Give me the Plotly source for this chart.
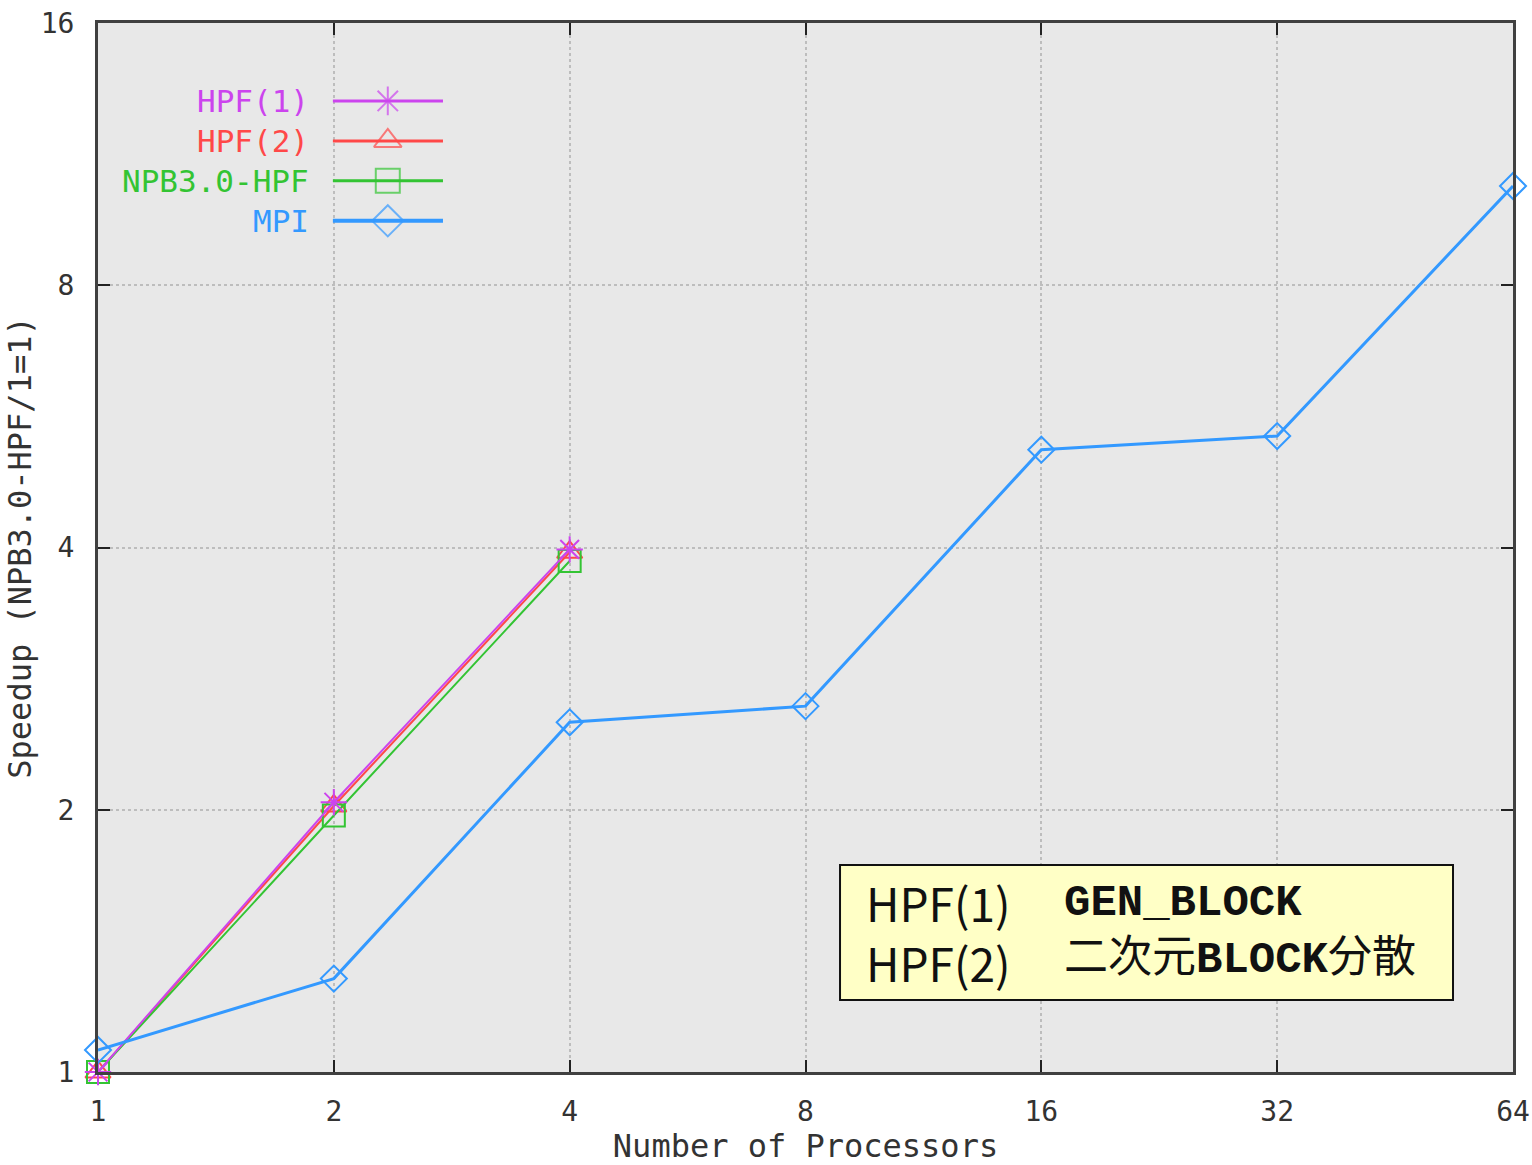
import plotly.graph_objects as go

# ---------------- data ----------------
processors = [1, 2, 4, 8, 16, 32, 64]
hpf1_x = [1, 2, 4]
hpf1_y = [1.0, 2.04, 3.98]
hpf2_x = [1, 2, 4]
hpf2_y = [1.0, 2.02, 3.95]
npb_x = [1, 2, 4]
npb_y = [1.0, 1.97, 3.86]
mpi_x = [1, 2, 4, 8, 16, 32, 64]
mpi_y = [1.06, 1.28, 2.52, 2.63, 5.18, 5.37, 10.4]

y_ticks = [1, 2, 4, 8, 16]
x_ticks = processors

series_names = ["HPF(1)", "HPF(2)", "NPB3.0-HPF", "MPI"]
series_colors = ["#cc44ee", "#ff4848", "#33c433", "#3399ff"]
series_symbols = ["asterisk-open", "triangle-up-open", "square-open", "diamond-open"]
series_widths = [2, 2, 2, 3]

mono = "DejaVu Sans Mono"

fig = go.Figure()

data = [(hpf2_x, hpf2_y, 1), (npb_x, npb_y, 2), (hpf1_x, hpf1_y, 0), (mpi_x, mpi_y, 3)]
for xs, ys, i in data:
    fig.add_trace(go.Scatter(
        x=xs, y=ys, mode="lines+markers", name=series_names[i],
        line=dict(color=series_colors[i], width=series_widths[i]),
        marker=dict(symbol=series_symbols[i], size=20 if i == 3 else 22,
                    color=series_colors[i], line=dict(width=2, color=series_colors[i])),
        showlegend=False, cliponaxis=False))

# ---------------- custom legend (text left of sample) ----------------
leg_top = 0.9257
leg_step = 0.0381
for k, name in enumerate(series_names):
    yk = leg_top - k * leg_step
    fig.add_annotation(x=0.1506, y=yk, xref="paper", yref="paper", text=name,
                       showarrow=False, xanchor="right", yanchor="middle",
                       font=dict(family=mono, size=31, color=series_colors[k]))
    fig.add_trace(go.Scatter(
        x=[0.166, 0.2048, 0.2438], y=[yk, yk, yk], xaxis="x2", yaxis="y2",
        mode="lines+markers", showlegend=False, hoverinfo="skip",
        line=dict(color=series_colors[k], width=series_widths[k] + 1),
        marker=dict(symbol=series_symbols[k], size=[0, 24, 0],
                    color=series_colors[k], line=dict(width=2, color=series_colors[k]))))

# ---------------- note box ----------------
fig.add_shape(type="rect", xref="paper", yref="paper",
              x0=0.5244, x1=0.9576, y0=0.0686, y1=0.1973,
              fillcolor="#ffffc6", line=dict(color="#111111", width=2), layer="above")
note_labels = "HPF(1)<br>HPF(2)"
note_descs = ("<b>GEN_BLOCK</b><br>"
              "二次元<span style=\"font-family:Liberation Mono\"><b>BLOCK</b></span>分散")
fig.add_annotation(x=0.5414, y=0.1335, xref="paper", yref="paper", text=note_labels,
                   showarrow=False, xanchor="left", yanchor="middle", align="left",
                   font=dict(family="Noto Sans CJK JP", size=46, color="#111111"))
fig.add_annotation(x=0.6813, y=0.1335, xref="paper", yref="paper", text=note_descs,
                   showarrow=False, xanchor="left", yanchor="middle", align="left",
                   font=dict(family="Liberation Mono, Noto Sans CJK JP", size=44,
                             color="#111111"))

grid = dict(showgrid=True, gridcolor="#bdbdbd", griddash="dot", gridwidth=2)
fig.update_layout(
    width=1532, height=1165,
    margin=dict(l=98, r=19, t=23, b=93),
    paper_bgcolor="#ffffff", plot_bgcolor="#e8e8e8",
    font=dict(family=mono, size=28, color="#333333"),
    xaxis=dict(type="log", range=[0, 1.80618], tickvals=x_ticks,
               ticktext=[str(v) for v in x_ticks], automargin=False,
               showline=True, linecolor="#404040", linewidth=3, mirror="ticks",
               ticks="inside", ticklen=12, tickwidth=2, tickcolor="#222222",
               zeroline=False, ticklabelstandoff=12,
               title=dict(text="Number of Processors", standoff=2,
                          font=dict(family=mono, size=32, color="#333333")),
               **grid),
    yaxis=dict(type="log", range=[0, 1.20412], tickvals=y_ticks,
               ticktext=[str(v) for v in y_ticks], automargin=False,
               showline=True, linecolor="#404040", linewidth=3, mirror="ticks",
               ticks="inside", ticklen=12, tickwidth=2, tickcolor="#222222",
               zeroline=False, ticklabelstandoff=15,
               title=dict(text="Speedup (NPB3.0-HPF/1=1)", standoff=0,
                          font=dict(family=mono, size=32, color="#333333")),
               **grid),
    xaxis2=dict(overlaying="x", range=[0, 1], visible=False, fixedrange=True),
    yaxis2=dict(overlaying="y", range=[0, 1], visible=False, fixedrange=True),
    showlegend=False,
)

fig.write_html("out.html")
